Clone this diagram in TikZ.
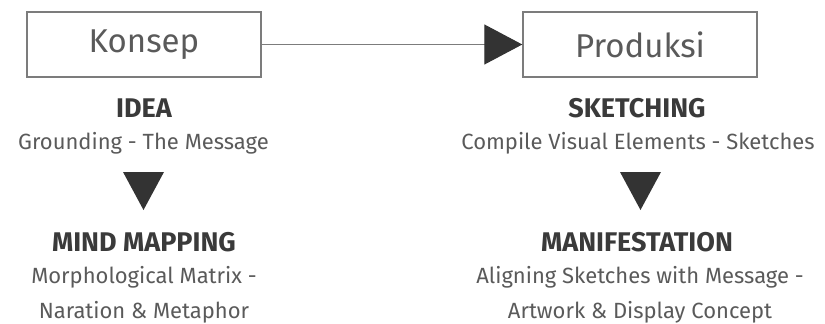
\documentclass[tikz,border=0pt]{standalone}
\usepackage{fontspec}
\setmainfont{Fira Sans}
\usetikzlibrary{arrows.meta}
\definecolor{boxgray}{HTML}{7C7C7C}
\definecolor{txtgray}{HTML}{5A5A5A}
\definecolor{headgray}{HTML}{3A3A3A}
\definecolor{tridark}{HTML}{333333}
\tikzset{
	phasebox/.style={draw=boxgray, line width=1.4pt, minimum width=234pt, minimum height=65pt, text=txtgray, font=\fontsize{33}{37}\selectfont},
	headtext/.style={text=headgray, font=\bfseries\fontsize{27}{31}\selectfont},
	bodytext/.style={text=txtgray, align=center, font=\fontsize{22}{35}\selectfont},
}

\begin{document}
\begin{tikzpicture}[x=1pt, y=-1pt]
		%%%%% START %%%%%
		\useasboundingbox (0, 0) rectangle (825, 324);
		
		\node[phasebox] (konsep) at (144, 44.5) {Konsep};
		\node[phasebox] (produksi) at (640, 44.5) {Produksi};
		\draw[line width=1.2pt, color=boxgray, -{Triangle[length=38pt, width=40pt, color=tridark]}] (konsep) -- (produksi);
		
		\node[headtext] (idea) at (144, 108) {IDEA};
		\node[bodytext] (ideatxt) at (143.5, 143) {Grounding - The Message};
		\fill[tridark] (123, 172) -- (164, 172) -- (143.5, 210) -- cycle;
		\node[headtext] (mindmap) at (144, 242) {MIND MAPPING};
		\node[bodytext] (mindmaptxt) at (144, 295) {Morphological Matrix -\\Naration \& Metaphor};
		
		\node[headtext] (sketching) at (637, 108) {SKETCHING};
		\node[bodytext] (sketchingtxt) at (638, 143) {Compile Visual Elements - Sketches};
		\fill[tridark] (620, 172) -- (661, 172) -- (640.5, 210) -- cycle;
		\node[headtext] (manif) at (637, 242) {MANIFESTATION};
		\node[bodytext] (maniftxt) at (640, 295) {Aligning Sketches with Message -\\Artwork \& Display Concept};
		
		%%%%% END %%%%%
\end{tikzpicture}
\end{document}
